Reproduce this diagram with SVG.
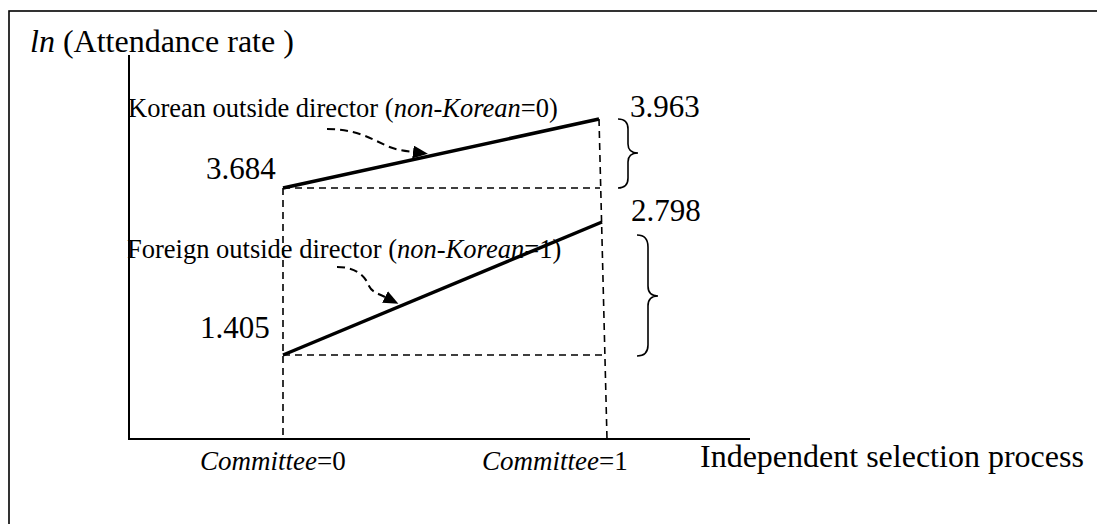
<svg xmlns="http://www.w3.org/2000/svg" width="1097" height="524" viewBox="0 0 1097 524">
<style>
text{font-family:"Liberation Serif","Times New Roman",serif;fill:#000}
.big{font-size:32px}
.num{font-size:31px}
.lbl{font-size:26.5px}
.cm{font-size:27px}
.it{font-style:italic}
.axis{stroke:#000;stroke-width:2;fill:none}
.guide{stroke:#000;stroke-width:1.6;stroke-dasharray:7 5;fill:none}
.trend{stroke:#000;stroke-width:3.5;fill:none;stroke-linecap:butt}
.brace{stroke:#000;stroke-width:1.6;fill:none}
.pointer{stroke:#000;stroke-width:2;stroke-dasharray:8 5;fill:none}
</style>
<defs>
<marker id="ah" viewBox="0 0 15 13" markerWidth="15" markerHeight="13" refX="0" refY="6.5" orient="auto" markerUnits="userSpaceOnUse">
<path d="M0,0 L15,6.5 L0,13 z" fill="#000"/>
</marker>
</defs>
<rect x="9" y="11" width="1100" height="520" fill="#fff" stroke="#000" stroke-width="1.6"/>
<g id="axes">
<line class="axis" x1="129" y1="55" x2="129" y2="439"/>
<line class="axis" x1="128" y1="439" x2="750" y2="439"/>
<text class="big" x="30" y="52"><tspan class="it">ln</tspan> (Attendance rate )</text>
<text class="big" x="700" y="467">Independent selection process</text>
<text class="cm" x="200" y="470"><tspan class="it">Committee</tspan>=0</text>
<text class="cm" x="482" y="470"><tspan class="it">Committee</tspan>=1</text>
</g>
<g id="guides">
<line class="guide" x1="283" y1="188" x2="283" y2="439"/>
<line class="guide" x1="599" y1="119" x2="607" y2="439"/>
<line class="guide" x1="283" y1="188" x2="600" y2="188"/>
<line class="guide" x1="283" y1="355" x2="606" y2="355"/>
</g>
<g id="korean">
<line class="trend" x1="283" y1="188" x2="599" y2="119"/>
<text class="lbl" x="128" y="117">Korean outside director (<tspan class="it">non-Korean</tspan>=0)</text>
<text class="num" x="206" y="179">3.684</text>
<text class="num" x="630" y="117">3.963</text>
</g>
<g id="foreign">
<line class="trend" x1="283" y1="355" x2="602" y2="222"/>
<text class="lbl" x="127" y="258">Foreign outside director (<tspan class="it">non-Korean</tspan>=1)</text>
<text class="num" x="200" y="338">1.405</text>
<text class="num" x="631" y="221">2.798</text>
</g>
<g id="braces">
<path class="brace" d="M618,119 Q628,119 628,129 L628,144 Q628,153 638,153 Q628,153 628,162 L628,178 Q628,188 618,188"/>
<path class="brace" d="M637,235 Q648,235 648,247 L648,286 Q648,296 658,296 Q648,296 648,306 L648,345 Q648,356 637,356"/>
</g>
<g id="connectors">
<path class="pointer" d="M327,129 C355,129 370,138 385,145 C395,150 405,151 413,152" marker-end="url(#ah)"/>
<path class="pointer" d="M337,267 C358,267 366,278 369,286 C372,292 377,293 385,297" marker-end="url(#ah)"/>
</g>
</svg>
